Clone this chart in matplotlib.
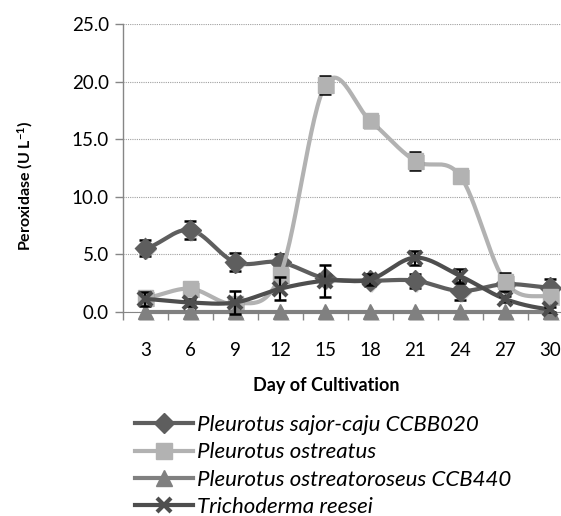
import numpy as np
import matplotlib
matplotlib.use('Agg')
import matplotlib.pyplot as plt
import matplotlib.patheffects as pe
from matplotlib.ticker import FormatStrFormatter, FixedLocator

plt.rcParams['font.family'] = ['Lato', 'DejaVu Sans']
plt.rcParams['mathtext.default'] = 'regular'

# data
days = [3, 6, 9, 12, 15, 18, 21, 24, 27, 30]
names = ['Pleurotus sajor-caju CCBB020', 'Pleurotus ostreatus',
         'Pleurotus ostreatoroseus CCB440', 'Trichoderma reesei']

sajor = [5.5, 7.1, 4.3, 4.3, 2.9, 2.7, 2.7, 1.8, 2.4, 2.1]
sajor_err = [0.7, 0.8, 0.8, 0.7, 0.3, 0.5, 0.6, 0.8, 0.5, 0.7]

ostreatus = [1.2, 2.0, 0.7, 3.2, 19.7, 16.6, 13.1, 11.8, 2.6, 1.3]
ostreatus_err = [0.3, 0.3, 0.3, 0.3, 0.8, 0.4, 0.8, 0.3, 0.8, 0.3]

roseus = [0, 0, 0, 0, 0, 0, 0, 0, 0, 0]
roseus_err = [0, 0, 0, 0, 0, 0, 0, 0, 0, 0]

reesei = [1.1, 0.8, 0.8, 2.0, 2.7, 2.8, 4.7, 3.1, 1.1, 0.2]
reesei_err = [0.6, 0.3, 1.0, 1.0, 1.4, 0.5, 0.6, 0.6, 0.3, 0.2]

colors = ['#5e5e5e', '#b2b2b2', '#808080', '#4e4e4e']
markers = ['D', 's', '^', 'x']
msizes = [10.5, 11, 11, 10]


def smooth(y, n=30):
    # excel style smoothed line (catmull-rom)
    y = np.asarray(y, dtype=float)
    xs, ys = [], []
    for i in range(len(y) - 1):
        m0 = (y[i + 1] - y[i - 1]) / 2 if i > 0 else (y[i + 1] - y[i]) / 2
        m1 = (y[i + 2] - y[i]) / 2 if i + 2 < len(y) else (y[i + 1] - y[i]) / 2
        t = np.linspace(0, 1, n)
        h00 = 2 * t**3 - 3 * t**2 + 1
        h10 = t**3 - 2 * t**2 + t
        h01 = -2 * t**3 + 3 * t**2
        h11 = t**3 - t**2
        xs.extend(i + 1 + t)
        ys.extend(h00 * y[i] + h10 * m0 + h01 * y[i + 1] + h11 * m1)
    return np.array(xs), np.array(ys)


fig = plt.figure(figsize=(5.61, 5.16), dpi=100)
ax = fig.add_axes([122.7 / 561, 1 - 311.7 / 516, 450 / 561, 287.7 / 516])

shadow = [pe.SimplePatchShadow(offset=(1.2, -1.2), shadow_rgbFace='#999999', alpha=0.5), pe.Normal()]

pos = np.arange(1, len(days) + 1)
series = [sajor, ostreatus, roseus, reesei]
errs = [sajor_err, ostreatus_err, roseus_err, reesei_err]
handles = []
for k, (vals, err) in enumerate(zip(series, errs)):
    z = 3 + 3 * k
    sx, sy = smooth(vals)
    ax.plot(sx, sy, color=colors[k], lw=3, zorder=z, solid_capstyle='round', clip_on=False)
    if any(err):
        ax.errorbar(pos, vals, yerr=err, fmt='none', ecolor='black',
                    elinewidth=1.6, capsize=4.3, capthick=1.8, zorder=z + 1, clip_on=False)
    mk, = ax.plot(pos, vals, linestyle='none', marker=markers[k], ms=msizes[k],
                  color=colors[k], mew=3 if markers[k] == 'x' else 1, zorder=z + 2, clip_on=False)
    mk.set_path_effects(shadow)
    h, = ax.plot([], [], color=colors[k], lw=3, marker=markers[k], ms=msizes[k],
                 mew=3 if markers[k] == 'x' else 1)
    handles.append(h)

ax.set_xlim(0.5, len(days) + 0.5)
ax.set_ylim(0, 25)
ax.set_yticks([0, 5, 10, 15, 20, 25])
ax.yaxis.set_major_formatter(FormatStrFormatter('%.1f'))
ax.set_xticks(pos)
ax.set_xticklabels([str(d) for d in days])
ax.xaxis.set_minor_locator(FixedLocator(np.arange(0.5, len(days) + 1, 1)))
ax.tick_params(axis='x', which='major', length=0, labelsize=13.5, pad=22)
ax.tick_params(axis='x', which='minor', length=6, width=1, color='#868686', direction='out')
ax.tick_params(axis='y', length=6, width=1, color='#868686', labelsize=13.5, pad=4)

ax.grid(axis='y', linestyle=(0, (1, 1)), color='#a0a0a0', lw=0.8)
ax.set_axisbelow(True)
for s in ['top', 'right']:
    ax.spines[s].set_visible(False)
ax.spines['left'].set_color('#868686')
ax.spines['bottom'].set_color('#868686')
ax.spines['left'].set_linewidth(1)

fig.text(25 / 561, 1 - 186 / 516, 'Peroxidase (U L$^{-1}$)', rotation=90,
         ha='center', va='center', fontsize=11.5, fontweight='bold')
fig.text(326 / 561, 1 - 385 / 516, 'Day of Cultivation', ha='center', va='center',
         fontsize=13, fontweight='bold')

fig.legend(handles, names, loc='upper left', bbox_to_anchor=(135 / 561, 1 - 415 / 516),
           frameon=False, prop={'style': 'italic', 'size': 16}, handlelength=2.6,
           handletextpad=0.2, labelspacing=0.33, borderpad=0, borderaxespad=0)

fig.savefig('out.png', dpi=100)
